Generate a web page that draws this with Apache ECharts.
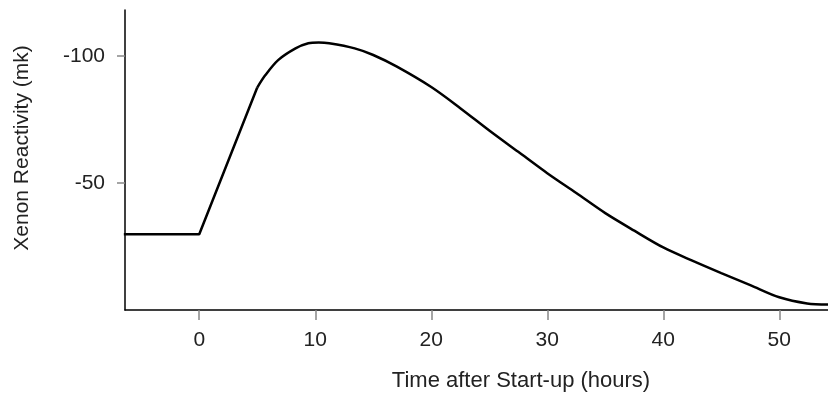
<!DOCTYPE html>
<html>
<head>
<meta charset="utf-8">
<script src="https://cdn.jsdelivr.net/npm/echarts@6/dist/echarts.min.js"></script>
<style>
  html, body { margin: 0; padding: 0; background: #fff; }
  #main { width: 828px; height: 397px; }
</style>
</head>
<body>
<div id="main"></div>
<script>
// hours after start-up
var hours = [-6.5, 0, 5, 5.7, 6.8, 8.3, 9.4, 10.3, 11.2, 13.4, 15, 17, 20, 22.5, 25, 27.5, 30, 32.5, 35, 37.5, 40, 42.5, 45, 47.5, 50, 52.4, 54.5];
// xenon reactivity (mk)
var reactivity = [-29.8, -29.8, -87.5, -92.4, -98.3, -102.9, -104.9, -105.2, -104.9, -102.9, -100.3, -95.8, -87.7, -79.4, -70.6, -62.2, -53.8, -46, -38.1, -31.2, -24.6, -19.4, -14.5, -9.8, -5.0, -2.6, -2.1];
var xTicks = [0, 10, 20, 30, 40, 50];
var yTicks = [-100, -50];

// straight part: steady state, then the linear rise up to ~5 h; smooth build-up and decay after that
var rampEnd = 2;
var points = hours.map(function (h, i) { return [h, reactivity[i]]; });
var ramp = points.slice(0, rampEnd + 1);
var decay = points.slice(rampEnd);

var myChart = echarts.init(document.getElementById('main'));

var line = { color: '#000', width: 2.5 };

var option = {
    animation: false,
    textStyle: { fontFamily: 'Liberation Sans' },
    grid: { left: 125, right: 0, top: 10, bottom: 87 },
    xAxis: {
        type: 'value',
        min: -6.4,
        max: 54.2,
        name: 'Time after Start-up (hours)',
        nameLocation: 'middle',
        nameGap: 60,
        nameTextStyle: { fontSize: 22, color: '#222', padding: [0, 0, 0, 89] },
        splitLine: { show: false },
        axisLine: { onZero: false, lineStyle: { color: '#000', width: 1.5 } },
        axisTick: { customValues: xTicks, length: 10, lineStyle: { color: '#888', width: 1.5 } },
        axisLabel: { customValues: xTicks, fontSize: 21, color: '#222', margin: 20 }
    },
    yAxis: {
        type: 'value',
        inverse: true,
        min: -118,
        max: 0,
        name: 'Xenon Reactivity (mk)',
        nameLocation: 'middle',
        nameGap: 92,
        nameTextStyle: { fontSize: 21, color: '#222', padding: [0, 0, 0, 24] },
        splitLine: { show: false },
        axisLine: { show: true, onZero: false, lineStyle: { color: '#000', width: 1.5 } },
        axisTick: { show: true, customValues: yTicks, length: 8, lineStyle: { color: '#888', width: 1.5 } },
        axisLabel: { customValues: yTicks, fontSize: 21, color: '#222', margin: 20 }
    },
    series: [
        {
            type: 'line',
            data: ramp,
            showSymbol: false,
            lineStyle: line
        },
        {
            type: 'line',
            data: decay,
            smooth: 0.3,
            showSymbol: false,
            lineStyle: line
        }
    ]
};
myChart.setOption(option);
</script>
</body>
</html>
